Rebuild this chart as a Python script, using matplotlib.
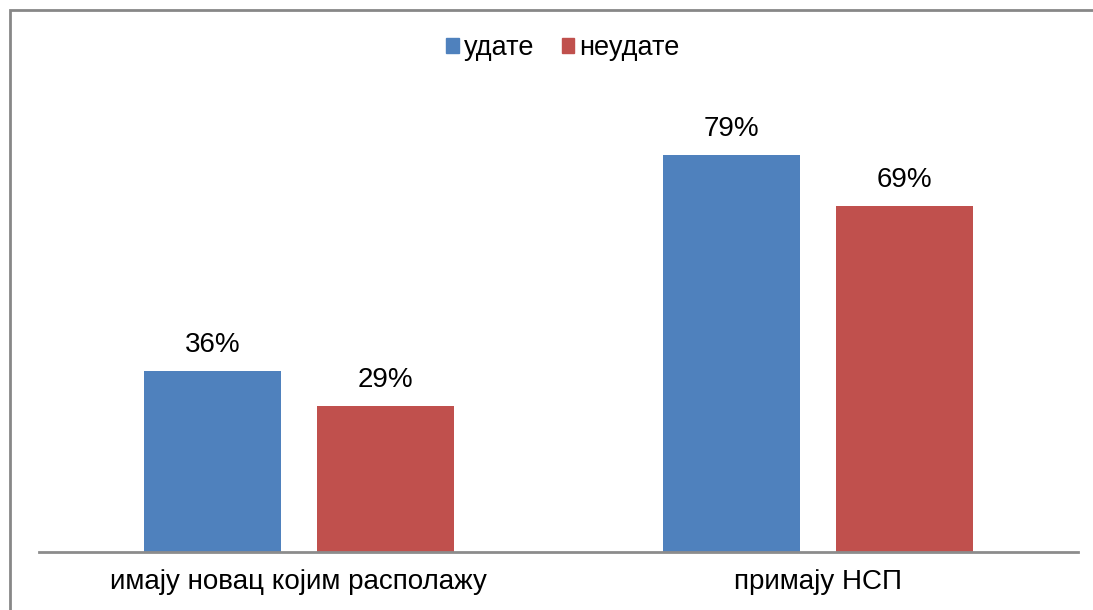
import matplotlib
matplotlib.use("Agg")
import matplotlib.pyplot as plt
from matplotlib.patches import Rectangle, Patch
import numpy as np

plt.rcParams['font.family'] = ['Liberation Sans', 'DejaVu Sans']

categories = ['имају новац којим располажу', 'примају НСП']
series_names = ['удате', 'неудате']
udate = [36, 79]
neudate = [29, 69]
colors = ['#4F81BD', '#C0504D']

W, H = 1093, 610
fig = plt.figure(figsize=(W / 100, H / 100), dpi=100)

# outer frame (cut at right/bottom like the original)
fig.patches.append(Rectangle((9.5 / W, -0.05), 1.1, 1 - 9.5 / H + 0.05,
                             transform=fig.transFigure, fill=False,
                             edgecolor='#878787', linewidth=2))

ax = fig.add_axes([39 / W, 58 / H, (1078 - 39) / W, (552 - 50) / H])
x = np.arange(len(categories))
bw = 137 / 519.5
off = (137 + 36) / 2 / 519.5
for vals, c, name, dx in [(udate, colors[0], series_names[0], -off),
                          (neudate, colors[1], series_names[1], off)]:
    bars = ax.bar(x + dx, vals, bw, color=c, label=name)
    for b, v in zip(bars, vals):
        ax.text(b.get_x() + b.get_width() / 2, v + 2.6, f"{v}%",
                ha='center', va='bottom', fontsize=20)

ax.set_xlim(-0.5, 1.5)
ax.set_ylim(0, 100)
ax.set_yticks([])
ax.set_xticks(x)
ax.set_xticklabels(categories, fontsize=20)
ax.tick_params(axis='x', length=0, pad=12)
for s in ['top', 'right', 'left']:
    ax.spines[s].set_visible(False)
ax.spines['bottom'].set_color('#8C8C8C')
ax.spines['bottom'].set_linewidth(2)

handles = [Patch(color=colors[0]), Patch(color=colors[1])]
fig.legend(handles, series_names, loc='center', bbox_to_anchor=(563 / W, 1 - 48 / H),
           ncol=2, frameon=False, fontsize=19.5, handlelength=0.45, handleheight=0.45,
           handletextpad=0.2, columnspacing=1.0)

fig.savefig('out.png', dpi=100)
